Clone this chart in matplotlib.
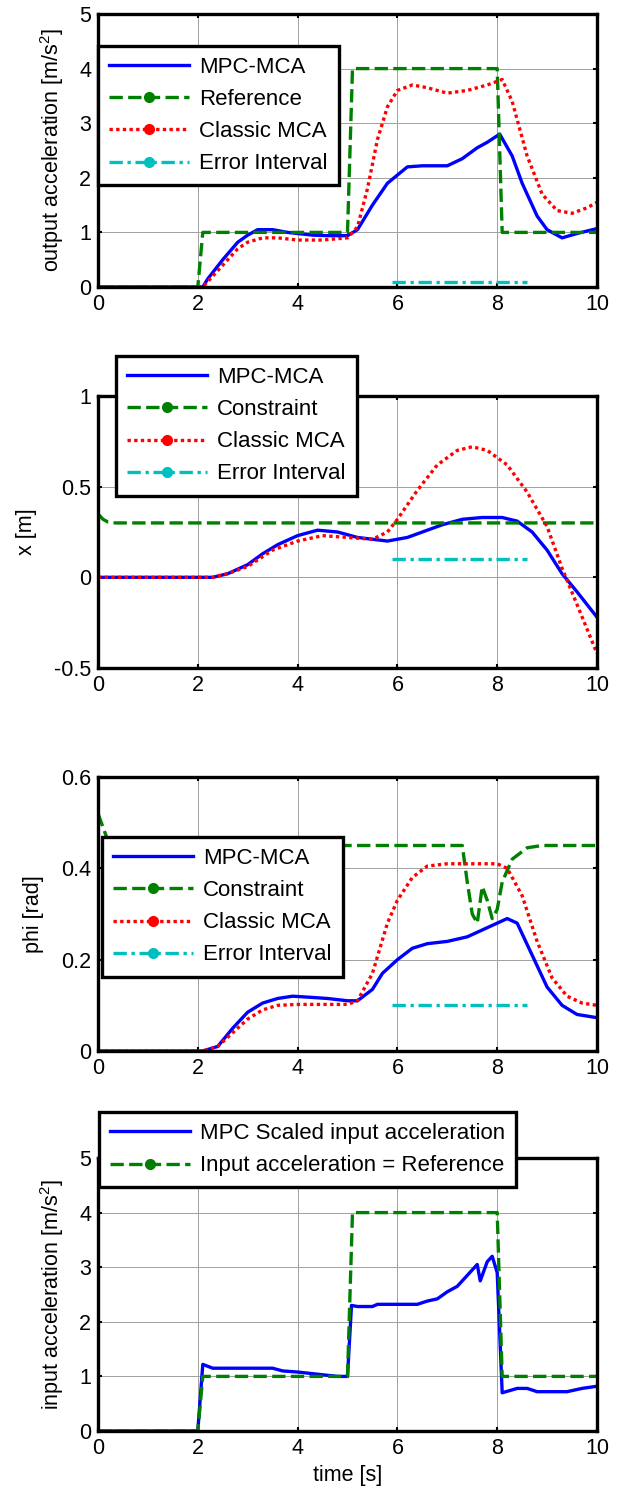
import numpy as np
import matplotlib
matplotlib.use('Agg')
import matplotlib.pyplot as plt
from matplotlib.lines import Line2D

plt.rcParams['font.family'] = ['Liberation Sans', 'DejaVu Sans']
plt.rcParams['mathtext.fontset'] = 'custom'
plt.rcParams['mathtext.rm'] = 'Liberation Sans'

# reference step (plots 1 and 4)
t_ref = [0, 2.0, 2.1, 5.0, 5.1, 8.0, 8.1, 10]
a_ref = [0, 0, 1, 1, 4, 4, 1, 1]

# error interval (plots 1-3)
t_err = [5.9, 8.6]
y_err = [0.1, 0.1]

# plot 1: output acceleration
t_mpc1 = [0, 2.1, 2.2, 2.5, 2.8, 3.0, 3.2, 3.5, 3.8, 4.0, 4.3, 4.6, 5.0, 5.2, 5.5, 5.8, 6.0, 6.2, 6.5,
          7.0, 7.3, 7.6, 7.8, 8.05, 8.3, 8.5, 8.8, 9.0, 9.3, 9.6, 10]
a_mpc1 = [0, 0, 0.15, 0.5, 0.82, 0.95, 1.05, 1.05, 1.0, 0.98, 0.95, 0.94, 0.94, 1.05, 1.5, 1.9, 2.05, 2.2, 2.22,
          2.22, 2.35, 2.55, 2.65, 2.8, 2.4, 1.9, 1.3, 1.05, 0.9, 0.98, 1.07]
t_cls1 = [0, 2.1, 2.5, 2.8, 3.0, 3.3, 3.6, 4.0, 4.5, 5.0, 5.2, 5.4, 5.6, 5.8, 6.0, 6.3, 6.6, 7.0, 7.4,
          7.8, 8.1, 8.3, 8.6, 8.9, 9.2, 9.5, 9.8, 10]
a_cls1 = [0, 0, 0.4, 0.7, 0.82, 0.9, 0.9, 0.86, 0.86, 0.9, 1.1, 1.8, 2.7, 3.3, 3.6, 3.7, 3.65, 3.55, 3.6,
          3.7, 3.8, 3.4, 2.4, 1.7, 1.4, 1.35, 1.45, 1.55]

# plot 2: x [m]
t_con2 = [0, 0.1, 0.2, 0.35, 10]
x_con2 = [0.35, 0.32, 0.305, 0.3, 0.3]
t_mpc2 = [0, 2.3, 2.6, 3.0, 3.3, 3.6, 4.0, 4.4, 4.8, 5.2, 5.5, 5.8, 6.2, 6.5, 6.9, 7.3, 7.7, 8.1, 8.4,
          8.7, 9.0, 9.3, 9.6, 10]
x_mpc2 = [0, 0, 0.02, 0.07, 0.13, 0.18, 0.23, 0.26, 0.25, 0.22, 0.21, 0.2, 0.22, 0.25, 0.29, 0.32, 0.33, 0.33, 0.31,
          0.25, 0.15, 0.02, -0.08, -0.22]
t_cls2 = [0, 2.3, 2.6, 3.0, 3.5, 4.0, 4.5, 5.0, 5.5, 5.8, 6.0, 6.4, 6.8, 7.2, 7.5, 7.8, 8.2, 8.6, 9.0,
          9.3, 9.6, 10]
x_cls2 = [0, 0, 0.02, 0.06, 0.15, 0.2, 0.23, 0.22, 0.21, 0.25, 0.32, 0.48, 0.62, 0.7, 0.72, 0.7, 0.62, 0.47, 0.28,
          0.05, -0.15, -0.42]

# plot 3: phi [rad]
t_con3 = [0, 0.1, 0.2, 0.3, 7.3, 7.4, 7.5, 7.6, 7.7, 7.8, 7.9, 8.0, 8.1, 8.3, 8.6, 8.9, 10]
p_con3 = [0.52, 0.49, 0.46, 0.45, 0.45, 0.37, 0.3, 0.28, 0.36, 0.33, 0.29, 0.31, 0.37, 0.42, 0.445, 0.45, 0.45]
t_mpc3 = [0, 2.1, 2.4, 2.7, 3.0, 3.3, 3.6, 3.9, 4.2, 4.6, 5.0, 5.2, 5.5, 5.7, 6.0, 6.3, 6.6, 7.0, 7.4,
          7.7, 8.0, 8.2, 8.4, 8.7, 9.0, 9.3, 9.6, 10]
p_mpc3 = [0, 0, 0.01, 0.05, 0.085, 0.105, 0.115, 0.12, 0.118, 0.115, 0.11, 0.11, 0.135, 0.17, 0.2, 0.225, 0.235, 0.24, 0.25,
          0.265, 0.28, 0.29, 0.28, 0.21, 0.14, 0.1, 0.08, 0.073]
t_cls3 = [0, 2.1, 2.4, 2.7, 3.0, 3.3, 3.6, 4.0, 5.0, 5.2, 5.5, 5.8, 6.0, 6.3, 6.6, 7.0, 8.0, 8.2, 8.5,
          8.8, 9.1, 9.4, 9.7, 10]
p_cls3 = [0, 0, 0.01, 0.04, 0.07, 0.09, 0.1, 0.102, 0.102, 0.11, 0.17, 0.28, 0.33, 0.38, 0.405, 0.41, 0.41, 0.4, 0.34,
          0.24, 0.16, 0.12, 0.105, 0.1]

# plot 4: input acceleration
t_mpc4 = [0, 2.0, 2.1, 2.3, 3.5, 3.7, 4.0, 4.4, 4.8, 5.0, 5.08, 5.2, 5.5, 5.6, 6.4, 6.6, 6.8, 7.0, 7.2,
          7.4, 7.6, 7.66, 7.8, 7.9, 8.0, 8.1, 8.4, 8.6, 8.8, 9.0, 9.4, 9.7, 10]
a_mpc4 = [0, 0, 1.22, 1.15, 1.15, 1.1, 1.08, 1.04, 1.0, 1.0, 2.3, 2.28, 2.28, 2.32, 2.32, 2.38, 2.42, 2.55, 2.65,
          2.85, 3.05, 2.75, 3.1, 3.2, 2.9, 0.7, 0.78, 0.78, 0.72, 0.72, 0.72, 0.78, 0.82]

blue = '#0000ff'
green = '#008000'
red = '#ff0000'
cyan = '#00bfbf'
lw = 2.4
dash = (0, (4, 1.6))
dot = (0, (1, 1))
dashdot = (0, (4, 1.4, 1, 1.4))
fs = 15.5

fig = plt.figure(figsize=(6.26, 14.94), dpi=100)
W, H = 626, 1494


def make_axes(top, bottom):
    ax = fig.add_axes([98 / W, 1 - bottom / H, 499 / W, (bottom - top) / H])
    ax.grid(True, color='#a0a0a0', lw=0.7)
    ax.set_axisbelow(True)
    for s in ax.spines.values():
        s.set_linewidth(2.4)
    ax.tick_params(direction='in', top=True, right=True, length=3, width=1.5, labelsize=fs, pad=5)
    ax.set_xlim(0, 10)
    ax.set_xticks([0, 2, 4, 6, 8, 10])
    return ax


def add_legend(ax, names, labels, x, y):
    sty = {'mpc': dict(color=blue, ls='-'),
           'ref': dict(color=green, ls=dash, marker='o'),
           'cls': dict(color=red, ls=dot, marker='o'),
           'err': dict(color=cyan, ls=dashdot, marker='o')}
    hs = [Line2D([], [], lw=lw, markersize=7, **sty[n]) for n in names]
    leg = ax.legend(hs, labels, loc='upper left', bbox_to_anchor=(x, y), borderaxespad=0,
                    fontsize=16, handlelength=3.6, handletextpad=0.45, labelspacing=0.5,
                    borderpad=0.5, fancybox=False, framealpha=1, edgecolor='black')
    leg.get_frame().set_linewidth(2.4)
    leg.set_zorder(10)
    return leg


# plot 1
ax1 = make_axes(14, 287)
ax1.plot(t_mpc1, a_mpc1, color=blue, lw=lw)
ax1.plot(t_ref, a_ref, color=green, lw=lw, ls=dash)
ax1.plot(t_cls1, a_cls1, color=red, lw=lw, ls=dot)
ax1.plot(t_err, y_err, color=cyan, lw=lw, ls=dashdot)
ax1.set_ylim(0, 5)
ax1.set_yticks([0, 1, 2, 3, 4, 5])
ax1.set_ylabel(r'output acceleration [m/s$^2$]', fontsize=fs, labelpad=9)
add_legend(ax1, ['mpc', 'ref', 'cls', 'err'], ['MPC-MCA', 'Reference', 'Classic MCA', 'Error Interval'], 0.0, 0.883)

# plot 2
ax2 = make_axes(396, 668)
ax2.plot(t_mpc2, x_mpc2, color=blue, lw=lw)
ax2.plot(t_con2, x_con2, color=green, lw=lw, ls=dash)
ax2.plot(t_cls2, x_cls2, color=red, lw=lw, ls=dot)
ax2.plot(t_err, y_err, color=cyan, lw=lw, ls=dashdot)
ax2.set_ylim(-0.5, 1)
ax2.set_yticks([-0.5, 0, 0.5, 1])
ax2.set_yticklabels(['-0.5', '0', '0.5', '1'])
ax2.set_ylabel('x [m]', fontsize=fs, labelpad=12)
add_legend(ax2, ['mpc', 'ref', 'cls', 'err'], ['MPC-MCA', 'Constraint', 'Classic MCA', 'Error Interval'], 0.036, 1.147)

# plot 3
ax3 = make_axes(777, 1051)
ax3.plot(t_mpc3, p_mpc3, color=blue, lw=lw)
ax3.plot(t_con3, p_con3, color=green, lw=lw, ls=dash)
ax3.plot(t_cls3, p_cls3, color=red, lw=lw, ls=dot)
ax3.plot(t_err, y_err, color=cyan, lw=lw, ls=dashdot)
ax3.set_ylim(0, 0.6)
ax3.set_yticks([0, 0.2, 0.4, 0.6])
ax3.set_yticklabels(['0', '0.2', '0.4', '0.6'])
ax3.set_ylabel('phi [rad]', fontsize=fs, labelpad=12)
add_legend(ax3, ['mpc', 'ref', 'cls', 'err'], ['MPC-MCA', 'Constraint', 'Classic MCA', 'Error Interval'], 0.008, 0.781)

# plot 4
ax4 = make_axes(1158, 1431)
ax4.plot(t_mpc4, a_mpc4, color=blue, lw=lw)
ax4.plot(t_ref, a_ref, color=green, lw=lw, ls=dash)
ax4.set_ylim(0, 5)
ax4.set_yticks([0, 1, 2, 3, 4, 5])
ax4.set_ylabel(r'input acceleration [m/s$^2$]', fontsize=fs, labelpad=9)
ax4.set_xlabel('time [s]', fontsize=fs)
add_legend(ax4, ['mpc', 'ref'], ['MPC Scaled input acceleration', 'Input acceleration = Reference'], 0.002, 1.168)

fig.savefig('out.png', dpi=100)
